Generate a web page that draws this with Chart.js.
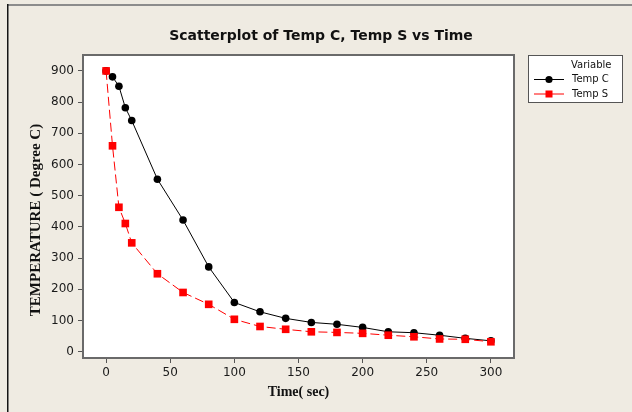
<!DOCTYPE html>
<html>
<head>
<meta charset="utf-8">
<script src="https://cdn.jsdelivr.net/npm/chart.js@4"></script>
<style>
  html, body { margin: 0; padding: 0; background: #efebe2; }
  canvas { display: block; }
</style>
</head>
<body>
<canvas id="chart" width="632" height="412"></canvas>
<script>
// data
const times = [0, 5, 10, 15, 20, 40, 60, 80, 100, 120, 140, 160, 180, 200, 220, 240, 260, 280, 300];
const tempC = [900, 881, 851, 782, 741, 553, 422, 272, 158, 128, 107, 94, 88, 78, 64, 61, 53, 43, 35];
const tempS = [900, 660, 463, 411, 349, 250, 190, 152, 104, 81, 72, 64, 62, 59, 53, 48, 41, 40, 32];
const xTicks = [0, 50, 100, 150, 200, 250, 300];
const yTicks = [0, 100, 200, 300, 400, 500, 600, 700, 800, 900];

const chartTitle = 'Scatterplot of Temp C, Temp S vs Time';
const xTitle = 'Time( sec)';
const yTitle = 'TEMPERATURE ( Degree C)';
const legendTitle = 'Variable';

const bg = '#efebe2';

function pairs(xs, ys) {
  return xs.map(function(x, i) { return { x: x, y: ys[i] }; });
}

// background, frame, plot box, titles and legend
const decor = {
  id: 'decor',
  beforeDraw: function(chart) {
    const ctx = chart.ctx;
    const a = chart.chartArea;
    ctx.save();
    ctx.fillStyle = bg;
    ctx.fillRect(0, 0, chart.width, chart.height);
    ctx.fillStyle = '#8c8c8c';
    ctx.fillRect(7, 4, chart.width - 7, 2);
    ctx.fillStyle = '#151515';
    ctx.fillRect(7, 4, 1.5, chart.height - 4);
    ctx.fillStyle = '#ffffff';
    ctx.fillRect(a.left, a.top, a.right - a.left, a.bottom - a.top);
    ctx.restore();
  },
  afterDraw: function(chart) {
    const ctx = chart.ctx;
    const a = chart.chartArea;
    ctx.save();
    // plot box
    ctx.strokeStyle = '#6a6a6a';
    ctx.lineWidth = 2;
    ctx.strokeRect(a.left, a.top, a.right - a.left, a.bottom - a.top);

    // titles
    ctx.fillStyle = '#111';
    ctx.textAlign = 'center';
    ctx.textBaseline = 'middle';
    ctx.font = 'bold 14px "DejaVu Sans"';
    ctx.fillText(chartTitle, 321, 36);
    ctx.font = 'bold 14px "Liberation Serif"';
    ctx.fillText(xTitle, (a.left + a.right) / 2, 392);
    ctx.save();
    ctx.translate(36, 220);
    ctx.rotate(-Math.PI / 2);
    ctx.font = 'bold 15px "Liberation Serif"';
    ctx.fillText(yTitle, 0, 0);
    ctx.restore();

    // legend
    ctx.fillStyle = '#fff';
    ctx.fillRect(528, 55, 95, 48);
    ctx.strokeStyle = '#555';
    ctx.lineWidth = 1;
    ctx.strokeRect(528.5, 55.5, 94, 47);
    ctx.font = '10px "DejaVu Sans"';
    ctx.textAlign = 'left';
    ctx.fillStyle = '#111';
    ctx.fillText(legendTitle, 571, 65);
    chart.data.datasets.forEach(function(ds, i) {
      const y = 79 + i * 14.5;
      ctx.strokeStyle = ds.borderColor;
      ctx.lineWidth = 1;
      ctx.beginPath();
      ctx.moveTo(534, y + 0.5);
      ctx.lineTo(564, y + 0.5);
      ctx.stroke();
      ctx.fillStyle = ds.backgroundColor;
      if (ds.pointStyle === 'rect') {
        ctx.fillRect(545.5, y - 3, 7, 7);
      } else {
        ctx.beginPath();
        ctx.arc(549, y + 0.5, 3.6, 0, Math.PI * 2);
        ctx.fill();
      }
      ctx.fillStyle = '#111';
      ctx.fillText(ds.label, 572, y + 0.5);
    });
    ctx.restore();
  }
};

const tickFont = { family: 'DejaVu Sans', size: 12 };

new Chart(document.getElementById('chart').getContext('2d'), {
  type: 'line',
  data: {
    datasets: [
      {
        label: 'Temp C',
        data: pairs(times, tempC),
        borderColor: '#000000',
        backgroundColor: '#000000',
        borderWidth: 1,
        pointStyle: 'circle',
        pointRadius: 3.8,
        pointBorderWidth: 0,
        order: 1
      },
      {
        label: 'Temp S',
        data: pairs(times, tempS),
        borderColor: '#ff0000',
        backgroundColor: '#ff0000',
        borderWidth: 1,
        borderDash: [9, 4],
        pointStyle: 'rect',
        pointRadius: 5.4,
        pointBorderWidth: 0,
        order: 0
      }
    ]
  },
  options: {
    responsive: false,
    animation: false,
    layout: {
      padding: { top: 55, right: 118, bottom: 0, left: 0 }
    },
    scales: {
      x: {
        type: 'linear',
        min: -18,
        max: 318,
        afterFit: function(s) { s.height = 54; },
        afterBuildTicks: function(s) { s.ticks = xTicks.map(function(v) { return { value: v }; }); },
        grid: { drawOnChartArea: false, drawTicks: true, tickLength: 5, color: '#555' },
        border: { display: false },
        ticks: { color: '#1a1a1a', font: tickFont, padding: 3, maxRotation: 0, autoSkip: false }
      },
      y: {
        min: -20,
        max: 951,
        afterFit: function(s) { s.width = 83; },
        afterBuildTicks: function(s) { s.ticks = yTicks.map(function(v) { return { value: v }; }); },
        grid: { drawOnChartArea: false, drawTicks: true, tickLength: 5, color: '#555' },
        border: { display: false },
        ticks: { color: '#1a1a1a', font: tickFont, padding: 4, autoSkip: false }
      }
    },
    plugins: {
      legend: { display: false },
      title: { display: false },
      tooltip: { enabled: false }
    }
  },
  plugins: [decor]
});
</script>
</body>
</html>
